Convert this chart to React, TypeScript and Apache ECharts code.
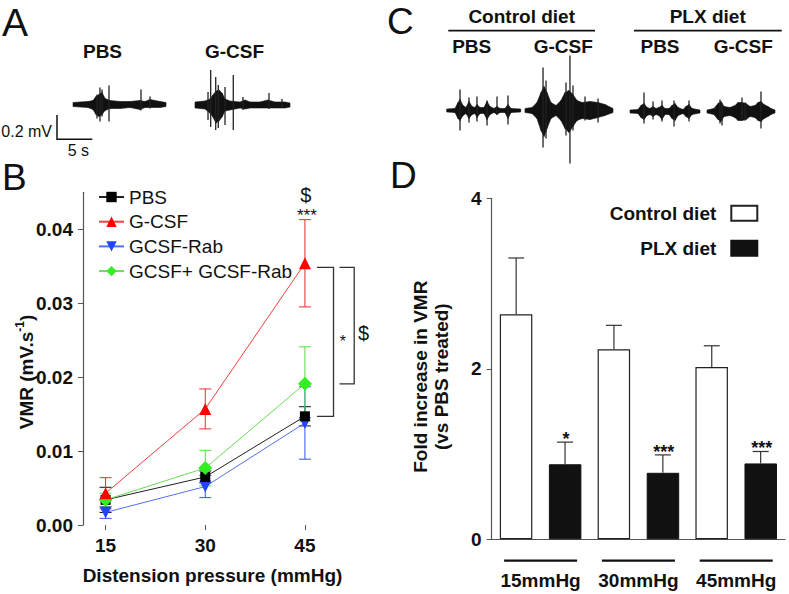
import React, { useEffect, useRef } from 'react';
import * as echarts from 'echarts';

const FONT = '"Liberation Sans", Arial, Helvetica, sans-serif';

// ---------- Panel B data ----------
const pressures = [15, 30, 45];
const bTicks = [0, 0.01, 0.02, 0.03, 0.04];
const pbsMean = [0.0034, 0.0065, 0.0147];
const pbsErr = [0.0017, 0.0008, 0.0013];
const gcsfMean = [0.0043, 0.0157, 0.0354];
const gcsfErr = [0.0021, 0.0027, 0.0059];
const rabMean = [0.0017, 0.0052, 0.0138];
const rabErr = [0.0008, 0.0015, 0.0049];
const comboMean = [0.0034, 0.0077, 0.0191];
const comboErr = [0.0009, 0.0024, 0.005];
const bracketLabels = ['*', '$'];
const topMarks = ['$', '***'];

// ---------- Panel D data ----------
const dCategories = ['15mmHg', '30mmHg', '45mmHg'];
const dTicks = [0, 2, 4];
const controlFold = [2.64, 2.23, 2.02];
const controlErr = [0.66, 0.28, 0.25];
const plxFold = [0.88, 0.78, 0.89];
const plxErr = [0.26, 0.21, 0.14];
const plxSig = ['*', '***', '***'];

// ---------- Trace envelopes [time %, up, down] and spikes ----------
const aPbsEnv = [[0,2,2],[7.5,2.5,2.5],[16.1,3,3],[21.5,4,5],[24.7,8,10],[28,10,12],[31.2,12,10],[34.4,6,6],[39.8,4,4],[50.5,3,4],[61.3,3,3],[72,4,5],[77.4,3,3],[82.8,5,3],[93.5,3,3],[100,2,2]];
const aPbsSpikes = [[25.8,10,14],[29,17,17],[31.2,15,12],[38.7,19,17],[73.1,15,6],[82.8,8,4]];
const aGcsfEnv = [[0,3,3],[10.5,4,4],[15.8,6,8],[18.9,10,12],[22.1,14,18],[25.3,15,16],[28.4,12,12],[31.6,6,6],[36.8,4,5],[47.4,3,3],[52.6,5,4],[57.9,3,3],[68.4,3,3],[76.8,5,3],[84.2,3,3],[94.7,3,3],[100,2,2]];
const aGcsfSpikes = [[13.7,13,15],[16.5,35,22],[21.8,28,25],[24.5,20,23],[31.6,18,20],[40.3,30,25],[50.5,8,5],[77.9,12,4],[91.6,6,3]];
const cCtrlPbsEnv = [[0,1.5,1.5],[11.2,2,2],[15.3,8,8],[18,11,10],[22,5,5],[26.1,3,3],[30.1,9,8],[34.2,4,4],[38.2,3,3],[40.9,6,7],[45,3,3],[50.4,3,3],[54.5,9,9],[58.5,4,4],[63.9,2,2],[68,4,4],[72,2,2],[78.8,2,2],[82.8,6,8],[86.9,2,2],[100,1.5,1.5]];
const cCtrlPbsSpikes = [[18,21,20],[30.1,13,12],[40.9,14,11],[54.5,10,15],[68,14,4],[82.8,15,14]];
const cCtrlGcsfEnv = [[0,2,2],[8,3,3],[13.6,8,8],[18.2,18,20],[21.6,24,26],[25,18,18],[29.5,8,8],[35.2,5,5],[40.9,10,10],[45.5,18,18],[50,20,22],[54.5,16,16],[59.1,10,10],[64.8,8,8],[73.9,9,9],[83,8,7],[90.9,6,5],[100,2,2]];
const cCtrlGcsfSpikes = [[20.5,43,37],[23.9,30,28],[46.6,28,25],[51.1,55,53],[54.5,25,20],[68.2,14,10],[83,12,12]];
const cPlxPbsEnv = [[0,1.5,1.5],[11.4,2,2],[15.7,6,6],[20,8,8],[24.3,4,4],[28.6,3,3],[32.9,5,5],[37.1,3,3],[41.4,4,4],[45.7,6,8],[50,3,3],[55.7,3,3],[60,6,7],[64.3,8,9],[68.6,4,4],[75.7,2,2],[80,5,5],[84.3,7,7],[88.6,3,3],[100,1.5,1.5]];
const cPlxPbsSpikes = [[20,19,12],[32.9,10,8],[45.7,11,10],[62.9,11,15],[84.3,11,10]];
const cPlxGcsfEnv = [[0,1.5,1.5],[10.3,3,3],[16.2,8,8],[20.6,10,10],[25,5,5],[33.8,4,4],[41.2,6,6],[45.6,9,9],[51.5,9,9],[57.4,8,8],[63.2,5,5],[70.6,6,6],[75,9,9],[79.4,10,10],[83.8,7,7],[89.7,5,5],[94.1,3,3],[100,1.5,1.5]];
const cPlxGcsfSpikes = [[19.1,12,12],[22.1,8,14],[51.5,14,8],[55.9,9,9],[79.4,20,17]];

const traces = [
  { env: aPbsEnv, spikes: aPbsSpikes, left: 73, width: 93, base: 104.5 },
  { env: aGcsfEnv, spikes: aGcsfSpikes, left: 195, width: 95, base: 105 },
  { env: cCtrlPbsEnv, spikes: cCtrlPbsSpikes, left: 446.7, width: 74, base: 110.5 },
  { env: cCtrlGcsfEnv, spikes: cCtrlGcsfSpikes, left: 525, width: 88, base: 110.5 },
  { env: cPlxPbsEnv, spikes: cPlxPbsSpikes, left: 630, width: 70, base: 111.5 },
  { env: cPlxGcsfEnv, spikes: cPlxGcsfSpikes, left: 707, width: 68, base: 111.5 },
];

const boldLabel = { fontFamily: FONT, fontWeight: 'bold' as const, fontSize: 19, color: '#111' };

const textStyle = (text: string, size: number, weight = 'normal') => ({
  text,
  fontFamily: FONT,
  fontSize: size,
  fontWeight: weight,
  fill: '#111',
  stroke: 'none',
  lineWidth: 0,
  align: 'center',
  verticalAlign: 'middle',
});

function errSeries(name: string, mean: number[], err: number[], color: string) {
  return {
    type: 'custom',
    name,
    xAxisIndex: 0,
    yAxisIndex: 0,
    silent: true,
    z: 2,
    itemStyle: { color },
    encode: { x: 0, y: [1, 2] },
    data: pressures.map((p, i) => [p, mean[i] - err[i], mean[i] + err[i]]),
    renderItem: (_params: any, api: any) => {
      const x = api.value(0);
      const a = api.coord([x, api.value(1)]);
      const b = api.coord([x, api.value(2)]);
      const cw = 6;
      const st = { stroke: color, lineWidth: 1 };
      return {
        type: 'group',
        children: [
          { type: 'line', shape: { x1: a[0], y1: a[1], x2: b[0], y2: b[1] }, style: st },
          { type: 'line', shape: { x1: a[0] - cw, y1: a[1], x2: a[0] + cw, y2: a[1] }, style: st },
          { type: 'line', shape: { x1: b[0] - cw, y1: b[1], x2: b[0] + cw, y2: b[1] }, style: st },
        ],
      };
    },
  };
}

function lineSeries(name: string, mean: number[], color: string, lineColor: string, symbol: string, size: number, rotate = 0) {
  return {
    type: 'line',
    name,
    xAxisIndex: 0,
    yAxisIndex: 0,
    z: 3,
    data: pressures.map((p, i) => [p, mean[i]]),
    symbol,
    symbolSize: size,
    symbolRotate: rotate,
    showAllSymbol: true,
    lineStyle: { color: lineColor, width: 1 },
    itemStyle: { color },
  };
}

function barErr(vals: number[], errs: number[], side: number, sig: string[] | null) {
  return {
    type: 'custom',
    xAxisIndex: 1,
    yAxisIndex: 1,
    silent: true,
    z: 4,
    itemStyle: { color: '#111' },
    encode: { x: 0, y: [1, 2] },
    data: vals.map((v, i) => [i, v, v + errs[i]]),
    renderItem: (params: any, api: any) => {
      const idx = api.value(0);
      const band = api.size([1, 0])[0];
      const off = band * 0.25 * side;
      const a = api.coord([idx, api.value(1)]);
      const b = api.coord([idx, api.value(2)]);
      const x = a[0] + off;
      const st = { stroke: '#333', lineWidth: 1.2 };
      const children: any[] = [
        { type: 'line', shape: { x1: x, y1: a[1], x2: x, y2: b[1] }, style: st },
        { type: 'line', shape: { x1: x - 8, y1: b[1], x2: x + 8, y2: b[1] }, style: st },
      ];
      if (sig) {
        children.push({
          type: 'text',
          x: x + 1,
          y: b[1] - 3,
          style: textStyle(sig[params.dataIndex], 18, 'bold'),
        });
      }
      return { type: 'group', children };
    },
  };
}

function buildOption() {
  const traceGrids = traces.map((t) => ({ left: t.left, top: t.base - 60, width: t.width, height: 120 }));
  const traceX = traces.map((_, k) => ({ gridIndex: k + 2, type: 'value', min: 0, max: 100, show: false }));
  const traceY = traces.map((_, k) => ({ gridIndex: k + 2, type: 'value', min: -60, max: 60, show: false }));
  const traceSeries = traces.flatMap((t, k) => [
    {
      type: 'custom',
      xAxisIndex: k + 2,
      yAxisIndex: k + 2,
      silent: true,
      itemStyle: { color: '#111' },
      encode: { x: [0, 3], y: [1, 2, 4, 5] },
      data: t.env.slice(0, -1).map((p, j) => [...p, ...t.env[j + 1]]),
      renderItem: (_p: any, api: any) => {
        const pts = [
          api.coord([api.value(0), api.value(1)]),
          api.coord([api.value(3), api.value(4)]),
          api.coord([api.value(3), -api.value(5)]),
          api.coord([api.value(0), -api.value(2)]),
        ];
        return { type: 'polygon', shape: { points: pts }, style: { fill: '#111', stroke: '#111', lineWidth: 0.6 } };
      },
    },
    {
      type: 'custom',
      xAxisIndex: k + 2,
      yAxisIndex: k + 2,
      silent: true,
      itemStyle: { color: '#222' },
      encode: { x: 0, y: [1, 2] },
      data: t.spikes,
      renderItem: (_p: any, api: any) => {
        const a = api.coord([api.value(0), api.value(1)]);
        const b = api.coord([api.value(0), -api.value(2)]);
        return { type: 'line', shape: { x1: a[0], y1: a[1], x2: b[0], y2: b[1] }, style: { stroke: '#222', lineWidth: 1.3 } };
      },
    },
  ]);

  const txt = (text: string, x: number, y: number, size: number, weight = 'bold', align = 'center') => ({
    type: 'text',
    x,
    y,
    style: { ...textStyle(text, size, weight), align },
  });

  return {
    animation: false,
    backgroundColor: '#fff',
    grid: [
      { left: 83, top: 192.3, width: 295, height: 332.7 },
      { left: 491.7, top: 198.3, width: 293.4, height: 341 },
      ...traceGrids,
    ],
    xAxis: [
      {
        gridIndex: 0,
        type: 'value',
        min: 11.6,
        max: 56,
        axisLine: { show: false },
        axisTick: { show: true, customValues: pressures, length: 5, lineStyle: { color: '#555' } },
        axisLabel: { customValues: pressures, margin: 11, ...boldLabel },
        splitLine: { show: false },
      },
      {
        gridIndex: 1,
        type: 'category',
        data: dCategories,
        axisLine: { show: true, lineStyle: { color: '#555', width: 1.2 } },
        axisTick: { show: false },
        axisLabel: { interval: 0, margin: 32, ...boldLabel },
        splitLine: { show: false },
      },
      ...traceX,
    ],
    yAxis: [
      {
        gridIndex: 0,
        type: 'value',
        min: 0,
        max: 0.045,
        axisLine: { show: true, lineStyle: { color: '#555', width: 1.2 } },
        axisTick: { show: true, customValues: bTicks, length: 5, lineStyle: { color: '#555' } },
        axisLabel: { customValues: bTicks, margin: 10, formatter: (v: number) => v.toFixed(2), ...boldLabel },
        splitLine: { show: false },
      },
      {
        gridIndex: 1,
        type: 'value',
        min: 0,
        max: 4,
        interval: 2,
        axisLine: { show: true, lineStyle: { color: '#555', width: 1.2 } },
        axisTick: { show: true, customValues: dTicks, length: 5, lineStyle: { color: '#555' } },
        axisLabel: { customValues: dTicks, margin: 10, ...boldLabel },
        splitLine: { show: false },
      },
      ...traceY,
    ],
    legend: [
      {
        data: ['PBS', 'G-CSF', 'GCSF-Rab', 'GCSF+ GCSF-Rab'],
        orient: 'vertical',
        left: 98,
        top: 187.5,
        padding: 0,
        itemWidth: 25,
        itemHeight: 13,
        itemGap: 5.7,
        selectedMode: false,
        textStyle: { fontFamily: FONT, fontSize: 19, color: '#111', lineHeight: 19 },
      },
      {
        data: ['Control diet', 'PLX diet'],
        orient: 'vertical',
        right: 30.7,
        top: 203.8,
        align: 'right',
        icon: 'rect',
        padding: 0,
        itemWidth: 26,
        itemHeight: 15,
        itemGap: 16,
        selectedMode: false,
        textStyle: { fontFamily: FONT, fontSize: 19, fontWeight: 'bold', color: '#111', lineHeight: 19, padding: [0, 10, 0, 0] },
      },
    ],
    series: [
      errSeries('PBS err', pbsMean, pbsErr, '#111'),
      errSeries('G-CSF err', gcsfMean, gcsfErr, '#e03030'),
      errSeries('GCSF-Rab err', rabMean, rabErr, '#3355ee'),
      errSeries('Combo err', comboMean, comboErr, '#55dd44'),
      lineSeries('GCSF-Rab', rabMean, '#2244ff', '#5070f0', 'triangle', 12, 180),
      lineSeries('PBS', pbsMean, '#000', '#222', 'rect', 10),
      lineSeries('GCSF+ GCSF-Rab', comboMean, '#33ee22', '#66dd55', 'diamond', 14),
      lineSeries('G-CSF', gcsfMean, '#ff0000', '#f04040', 'triangle', 12),
      {
        type: 'custom',
        xAxisIndex: 0,
        yAxisIndex: 0,
        silent: true,
        z: 5,
        itemStyle: { color: '#111' },
        encode: { x: 0, y: [1, 2] },
        data: [
          [pressures[2], gcsfMean[2], pbsMean[2]],
          [pressures[2], gcsfMean[2], comboMean[2]],
        ],
        renderItem: (params: any, api: any) => {
          const i = params.dataIndex;
          const a = api.coord([api.value(0), api.value(1)]);
          const b = api.coord([api.value(0), api.value(2)]);
          const offs = [[12, 28.6, 38, 0, 16], [34.6, 49.3, 58.6, 7.6, 20]][i];
          const x0 = a[0] + offs[0];
          const x1 = a[0] + offs[1];
          const ya = a[1] + 4;
          const st = { stroke: '#333', lineWidth: 1.3, fill: 'none' };
          return {
            type: 'group',
            children: [
              { type: 'polyline', shape: { points: [[x0, ya], [x1, ya], [x1, b[1]], [x0, b[1]]] }, style: st },
              {
                type: 'text',
                x: a[0] + offs[2],
                y: (ya + b[1]) / 2 + offs[3],
                style: textStyle(bracketLabels[i], offs[4]),
              },
            ],
          };
        },
      },
      {
        type: 'custom',
        xAxisIndex: 0,
        yAxisIndex: 0,
        silent: true,
        z: 5,
        itemStyle: { color: '#111' },
        encode: { x: 0, y: 1 },
        data: [[pressures[2], gcsfMean[2] + gcsfErr[2]]],
        renderItem: (_p: any, api: any) => {
          const c = api.coord([api.value(0), api.value(1)]);
          return {
            type: 'group',
            children: [
              { type: 'text', x: c[0] + 1, y: c[1] - 25, style: textStyle(topMarks[0], 20) },
              { type: 'text', x: c[0] + 2, y: c[1] - 4, style: textStyle(topMarks[1], 17) },
            ],
          };
        },
      },
      {
        type: 'bar',
        name: 'Control diet',
        xAxisIndex: 1,
        yAxisIndex: 1,
        data: controlFold,
        barWidth: 32.5,
        barGap: '51%',
        itemStyle: { color: '#fff', borderColor: '#222', borderWidth: 1.2 },
      },
      {
        type: 'bar',
        name: 'PLX diet',
        xAxisIndex: 1,
        yAxisIndex: 1,
        data: plxFold,
        barWidth: 32.5,
        barGap: '51%',
        itemStyle: { color: '#111', borderColor: '#111', borderWidth: 1 },
      },
      barErr(controlFold, controlErr, -1, null),
      barErr(plxFold, plxErr, 1, plxSig),
      {
        type: 'custom',
        xAxisIndex: 1,
        yAxisIndex: 1,
        silent: true,
        itemStyle: { color: '#111' },
        encode: { x: 0, y: 1 },
        data: dCategories.map((_, i) => [i, 0]),
        renderItem: (_p: any, api: any) => {
          const c = api.coord([api.value(0), 0]);
          return { type: 'line', shape: { x1: c[0] - 36.5, y1: c[1] + 21.4, x2: c[0] + 36.5, y2: c[1] + 21.4 }, style: { stroke: '#111', lineWidth: 2.2 } };
        },
      },
      ...traceSeries,
    ],
    graphic: [
      txt('A', 2, 22, 39, 'normal', 'left'),
      txt('B', 2, 177, 37, 'normal', 'left'),
      txt('C', 387, 21, 37, 'normal', 'left'),
      txt('D', 390, 175, 37, 'normal', 'left'),
      txt('PBS', 102.5, 51.7, 19),
      txt('G-CSF', 234.5, 51.7, 19),
      txt('0.2 mV', 52, 131.7, 16, 'normal', 'right'),
      txt('5 s', 78.3, 150, 16, 'normal'),
      { type: 'polyline', shape: { points: [[57, 115], [57, 139.3], [92.3, 139.3]] }, style: { stroke: '#111', lineWidth: 1.5, fill: 'none' } },
      txt('Control diet', 521.7, 16, 19),
      txt('PLX diet', 707.7, 16, 19),
      { type: 'line', shape: { x1: 448.3, y1: 30.7, x2: 595, y2: 30.7 }, style: { stroke: '#111', lineWidth: 1.8 } },
      { type: 'line', shape: { x1: 634, y1: 30.7, x2: 781.7, y2: 30.7 }, style: { stroke: '#111', lineWidth: 1.8 } },
      txt('PBS', 471.7, 46.7, 19),
      txt('G-CSF', 563.3, 46.7, 19),
      txt('PBS', 660, 46.7, 19),
      txt('G-CSF', 743.3, 46.7, 19),
      {
        type: 'text',
        x: 25,
        y: 372,
        rotation: Math.PI / 2,
        style: {
          text: '{a|VMR (mV.s}{s|-1}{a|)}',
          align: 'center',
          verticalAlign: 'middle',
          fill: '#111',
          rich: {
            a: { fontFamily: FONT, fontSize: 19, fontWeight: 'bold', fill: '#111', lineHeight: 22, verticalAlign: 'bottom' },
            s: { fontFamily: FONT, fontSize: 12, fontWeight: 'bold', fill: '#111', lineHeight: 12, verticalAlign: 'top' },
          },
        },
      },
      txt('Distension pressure (mmHg)', 212.5, 575, 19),
      {
        type: 'text',
        x: 431,
        y: 376.7,
        rotation: Math.PI / 2,
        style: {
          text: 'Fold increase in VMR\n(vs PBS treated)',
          fontFamily: FONT,
          fontSize: 19,
          fontWeight: 'bold',
          lineHeight: 21,
          fill: '#111',
          align: 'center',
          verticalAlign: 'middle',
        },
      },
    ],
  };
}

export default function App() {
  const ref = useRef<HTMLDivElement>(null);
  useEffect(() => {
    if (!ref.current) return;
    const chart = echarts.init(ref.current, null, { renderer: 'svg' });
    chart.setOption(buildOption() as any);
    return () => chart.dispose();
  }, []);
  return (
    <div
      ref={ref}
      style={{ position: 'fixed', left: 0, top: 0, width: 789, height: 594, background: '#fff' }}
    />
  );
}
